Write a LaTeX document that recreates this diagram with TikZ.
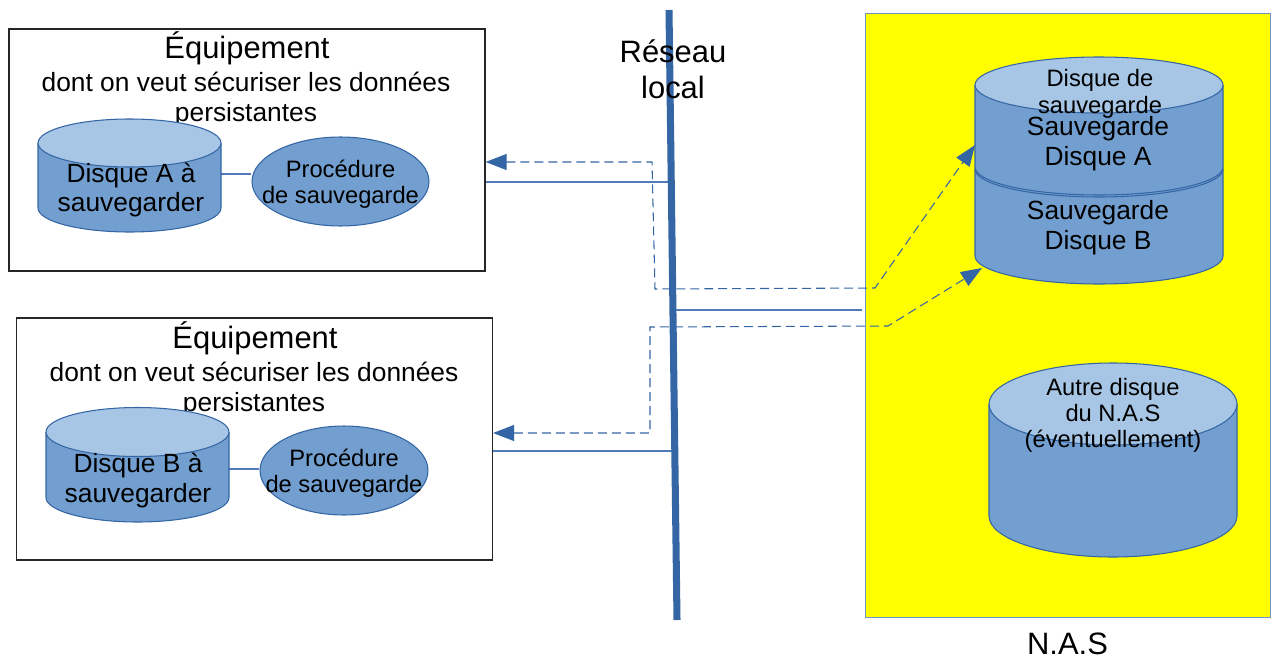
\documentclass[tikz,border=0pt]{standalone}
\usepackage{fontspec}
\setmainfont{Liberation Sans}
\usepackage{tikz}
\usetikzlibrary{shapes.geometric, arrows.meta, positioning, calc}
\definecolor{cBlue}{RGB}{52,101,164}
\definecolor{cDisk}{RGB}{114,159,207}
\definecolor{cDiskTop}{RGB}{167,197,228}
\definecolor{cLine}{RGB}{80,122,184}
\definecolor{cNas}{RGB}{255,255,0}
\tikzset{
	equipbox/.style ={rectangle, draw=black!85, line width=0.75pt, minimum width=9.52cm, minimum height=4.84cm, inner sep=0pt},
	nasbox/.style   ={rectangle, draw=cBlue!70, line width=0.5pt, fill=cNas, minimum width=8.1cm, minimum height=12.08cm, inner sep=0pt},
	disque/.style   ={draw=cBlue, line width=0.6pt, fill=cDisk},
	disquetop/.style={draw=cBlue, line width=0.6pt, fill=cDiskTop},
	proc/.style     ={ellipse, draw=cBlue, line width=0.6pt, fill=cDisk, inner sep=0pt, minimum height=1.78cm},
	cable/.style    ={draw=cLine, line width=0.7pt},
	flux/.style     ={{Triangle[length=0.42cm, width=0.32cm]}-{Triangle[length=0.42cm, width=0.32cm]}, cBlue, line width=0.6pt, dash pattern=on 0.18cm off 0.1cm},
	reseau/.style   ={cBlue, line width=4pt},
	% text styles
	txtbig/.style   ={align=center, font=\fontsize{17.6}{20.5}\selectfont, inner sep=0pt},
	txtmed/.style   ={align=center, font=\fontsize{15}{17}\selectfont, inner sep=0pt},
	txtsmall/.style ={align=center, font=\fontsize{13.5}{15}\selectfont, inner sep=0pt},
}

\begin{document}
\begin{tikzpicture}[x=0.02cm, y=-0.02cm]
	\useasboundingbox (0,0) rectangle (1271,659);
	% equipements
	\node[equipbox] (eqbA) at (247,150) {};
	\node[equipbox] (eqbB) at (254.5,439) {};
	\node[txtbig] (titA) at (247,48) {Équipement};
	\node[txtmed] (subA) at (246,99.5) {dont on veut sécuriser les données\\persistantes};
	\node[txtbig] (titB) at (255,338) {Équipement};
	\node[txtmed] (subB) at (254,389.5) {dont on veut sécuriser les données\\persistantes};
	% N.A.S
	\node[nasbox] (nas) at (1067.5,315) {};
	\node[txtbig, below=0.3cm of nas] (nasLbl) {N.A.S};
	% liaisons
	\coordinate (dskAe) at (221,174);
	\coordinate (dskBe) at (229,469);
	\coordinate (netTop) at (669,10);
	\coordinate (netBot) at (677,620);
	\coordinate (netA) at (671,182);
	\coordinate (netB) at (674,451);
	\coordinate (netC) at (676,310);
	\coordinate (inA) at (975,145);
	\coordinate (inB) at (982,268);
	\node[proc, minimum width=3.54cm] (procA) at (340.5,181.5) {};
	\node[proc, minimum width=3.36cm] (procB) at (344,470.5) {};
	\draw[cable] (dskAe) -- (dskAe -| procA.west);
	\draw[cable] (dskBe) -- (dskBe -| procB.west);
	\draw[cable] ($(eqbA.east)+(0,32)$) -- (netA);
	\draw[cable] ($(eqbB.east)+(0,12)$) -- (netB);
	\draw[cable] (netC) -- ($(nas.west)+(-3,-5)$);
	% disques des equipements
	\filldraw[disque] (38,143) -- (38,208) arc[start angle=180, end angle=0, x radius=91.5, y radius=24] -- (221,143);
	\filldraw[disquetop] (129.5,143) ellipse [x radius=91.5, y radius=24];
	\node[txtmed] (dskA) at (131,190) {Disque A à\\sauvegarder};
	\filldraw[disque] (46,432) -- (46,497.5) arc[start angle=180, end angle=0, x radius=91.5, y radius=24.5] -- (229,432);
	\filldraw[disquetop] (137.5,432) ellipse [x radius=91.5, y radius=24.5];
	\node[txtmed] (dskB) at (138,480.5) {Disque B à\\sauvegarder};
	\node[txtsmall] at ($(procA)+(0,2.5)$) {Procédure\\de sauvegarde};
	\node[txtsmall] at ($(procB)+(0,2.5)$) {Procédure\\de sauvegarde};
	% disques du N.A.S
	\filldraw[disque] (975,169) -- (975,256) arc[start angle=180, end angle=0, x radius=124, y radius=28] -- (1223,169);
	\filldraw[disque] (1099,169) ellipse [x radius=124, y radius=28];
	\filldraw[disque] (975,85) -- (975,167) arc[start angle=180, end angle=0, x radius=124, y radius=28] -- (1223,85);
	\filldraw[disquetop] (1099,85) ellipse [x radius=124, y radius=28];
	\node[txtsmall] (sauvLbl) at (1100,94) {Disque de\\sauvegarde};
	\node[txtmed] (sauvA) at (1098,143.5) {Sauvegarde\\Disque A};
	\node[txtmed] (sauvB) at (1098,228) {Sauvegarde\\Disque B};
	\filldraw[disque] (989,404) -- (989,516) arc[start angle=180, end angle=0, x radius=124, y radius=41] -- (1237,404);
	\filldraw[disquetop] (1113,404) ellipse [x radius=124, y radius=41];
	\node[txtsmall] (autre) at (1113,415.5) {Autre disque\\du N.A.S\\(éventuellement)};
	% flux de sauvegarde
	\draw[flux] ($(eqbA.east)+(0,12)$) -- (652,162) -- (655,289) -- (875,288) -- (inA);
	\draw[flux] ($(eqbB.east)+(0,-6)$) -- (650,433) -- (650,327) -- (888,326) -- (inB);
	% reseau local
	\draw[reseau] (netTop) -- (netBot);
	\node[txtbig] (resLbl) at (673,69) {Réseau\\local};
\end{tikzpicture}
\end{document}
